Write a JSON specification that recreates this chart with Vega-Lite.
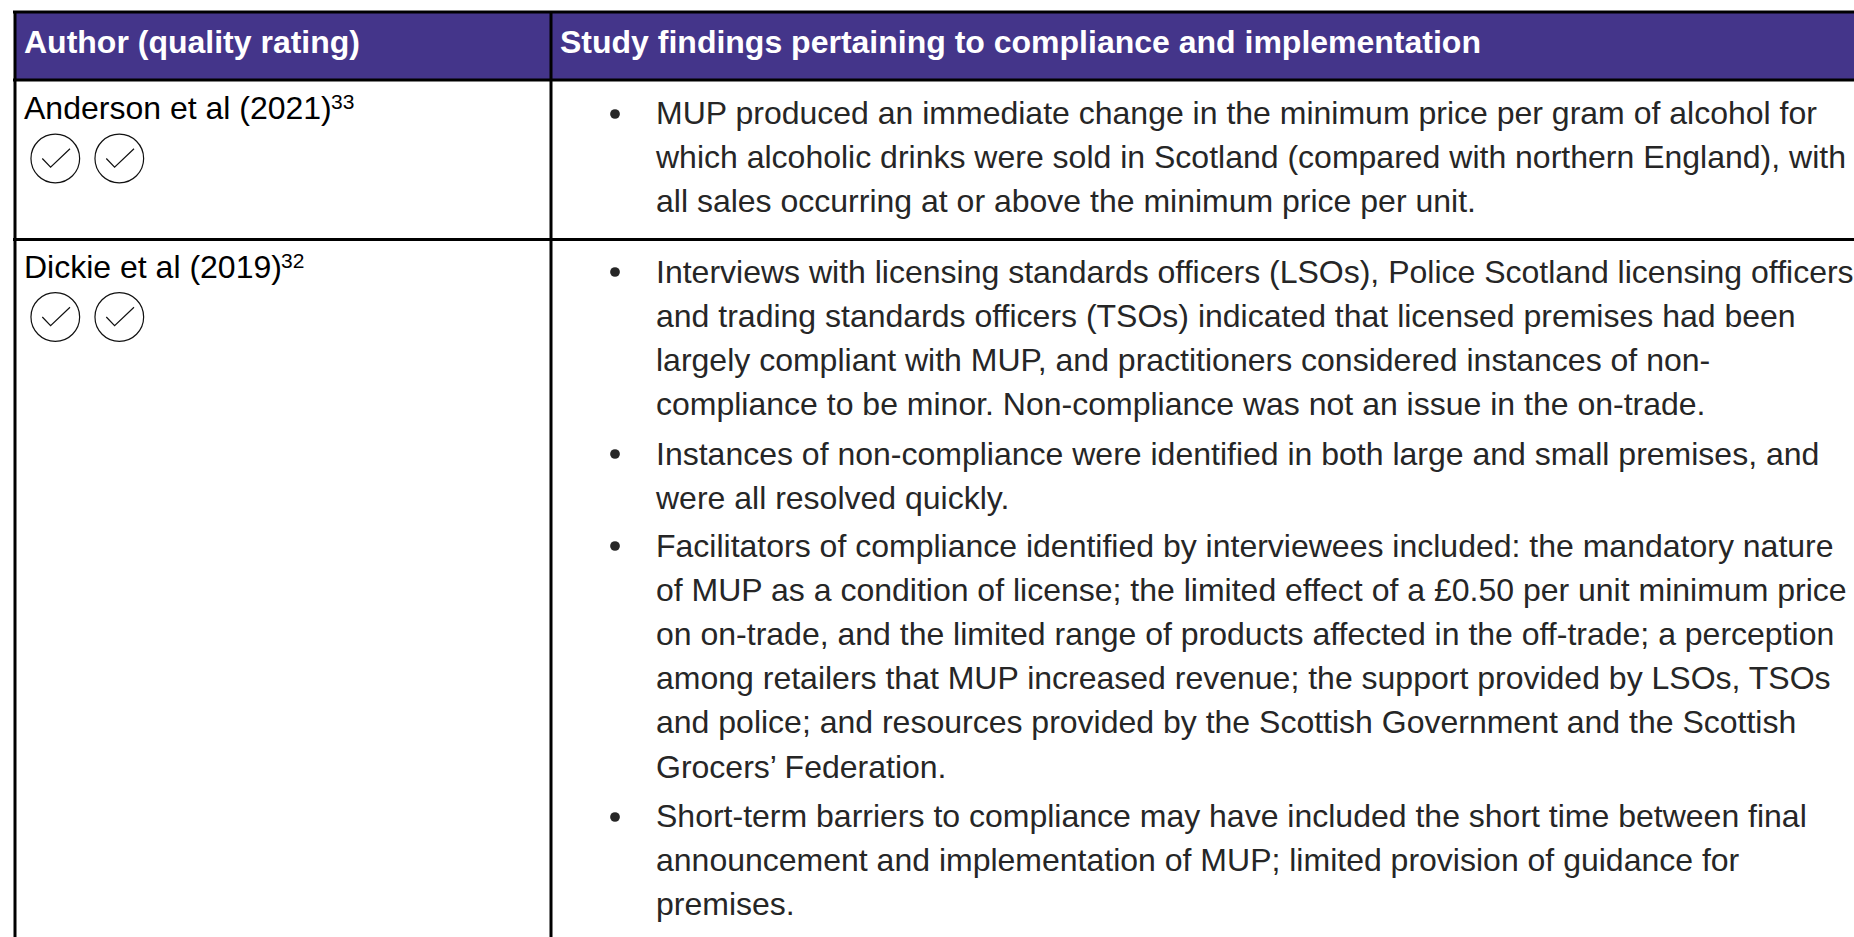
{
"$schema":"https://vega.github.io/schema/vega-lite/v6.json",
"width":1854,"height":937,"padding":0,"autosize":{"type":"none"},
"background":"white",
"config":{"view":{"stroke":null}},
"datasets":{
"header":[{"left":14,"right":1854,"top":12,"bottom":80}],
"hrules":[{"name":"top","x1":13,"x2":1854,"y":12},{"name":"header bottom","x1":13,"x2":1854,"y":80},{"name":"row 1 bottom","x1":13,"x2":1854,"y":239.5}],
"vrules":[{"name":"left","x":15,"y1":11,"y2":937},{"name":"divider","x":551,"y1":11,"y2":937}],
"headtext":[{"x":24,"y":53,"t":"Author (quality rating)"},{"x":560,"y":53,"t":"Study findings pertaining to compliance and implementation"}],
"authors":[{"x":24,"y":119,"t":"Anderson et al (2021)"},{"x":24,"y":278,"t":"Dickie et al (2019)"}],
"sups":[{"x":331,"y":109,"t":"33"},{"x":281,"y":268,"t":"32"}],
"body":[
{"y":124,"t":"MUP produced an immediate change in the minimum price per gram of alcohol for"},
{"y":168,"t":"which alcoholic drinks were sold in Scotland (compared with northern England), with"},
{"y":212,"t":"all sales occurring at or above the minimum price per unit."},
{"y":282.5,"t":"Interviews with licensing standards officers (LSOs), Police Scotland licensing officers"},
{"y":326.5,"t":"and trading standards officers (TSOs) indicated that licensed premises had been"},
{"y":371,"t":"largely compliant with MUP, and practitioners considered instances of non-"},
{"y":415,"t":"compliance to be minor. Non-compliance was not an issue in the on-trade."},
{"y":464.5,"t":"Instances of non-compliance were identified in both large and small premises, and"},
{"y":508.5,"t":"were all resolved quickly."},
{"y":557,"t":"Facilitators of compliance identified by interviewees included: the mandatory nature"},
{"y":601,"t":"of MUP as a condition of license; the limited effect of a £0.50 per unit minimum price"},
{"y":645,"t":"on on-trade, and the limited range of products affected in the off-trade; a perception"},
{"y":689,"t":"among retailers that MUP increased revenue; the support provided by LSOs, TSOs"},
{"y":733,"t":"and police; and resources provided by the Scottish Government and the Scottish"},
{"y":778,"t":"Grocers’ Federation."},
{"y":827,"t":"Short-term barriers to compliance may have included the short time between final"},
{"y":871,"t":"announcement and implementation of MUP; limited provision of guidance for"},
{"y":915,"t":"premises."}
],
"bullets":[{"x":615,"y":114},{"x":615,"y":272},{"x":615,"y":454},{"x":615,"y":546},{"x":615,"y":817}],
"circles":[{"x":55.3,"y":158.5},{"x":119.3,"y":158.5},{"x":55.3,"y":317},{"x":119.3,"y":317}],
"checks":[
{"c":"a1","o":1,"x":42.3,"y":158.5},{"c":"a1","o":2,"x":50.6,"y":167.2},{"c":"a1","o":3,"x":70,"y":148.8},
{"c":"a2","o":1,"x":106.3,"y":158.5},{"c":"a2","o":2,"x":114.6,"y":167.2},{"c":"a2","o":3,"x":134,"y":148.8},
{"c":"d1","o":1,"x":42.3,"y":317},{"c":"d1","o":2,"x":50.6,"y":325.7},{"c":"d1","o":3,"x":70,"y":307.3},
{"c":"d2","o":1,"x":106.3,"y":317},{"c":"d2","o":2,"x":114.6,"y":325.7},{"c":"d2","o":3,"x":134,"y":307.3}
]
},
"layer":[
{"data":{"name":"header"},"mark":{"type":"rect","color":"#44358a"},
 "encoding":{"x":{"field":"left","type":"quantitative","scale":{"domain":[0,1854],"nice":false,"zero":false},"axis":null},"x2":{"field":"right"},
 "y":{"field":"top","type":"quantitative","scale":{"domain":[937,0],"nice":false,"zero":false},"axis":null},"y2":{"field":"bottom"}}},
{"data":{"name":"hrules"},"mark":{"type":"rule","color":"#000000","strokeWidth":3},
 "encoding":{"x":{"field":"x1","type":"quantitative"},"x2":{"field":"x2"},"y":{"field":"y","type":"quantitative"}}},
{"data":{"name":"vrules"},"mark":{"type":"rule","color":"#000000","strokeWidth":3},
 "encoding":{"x":{"field":"x","type":"quantitative"},"y":{"field":"y1","type":"quantitative"},"y2":{"field":"y2"}}},
{"data":{"name":"headtext"},"mark":{"type":"text","align":"left","baseline":"alphabetic","font":"Liberation Sans","fontWeight":"bold","fontSize":32,"color":"#ffffff"},
 "encoding":{"x":{"field":"x","type":"quantitative"},"y":{"field":"y","type":"quantitative"},"text":{"field":"t"}}},
{"data":{"name":"authors"},"mark":{"type":"text","align":"left","baseline":"alphabetic","font":"Liberation Sans","fontSize":32,"color":"#000000"},
 "encoding":{"x":{"field":"x","type":"quantitative"},"y":{"field":"y","type":"quantitative"},"text":{"field":"t"}}},
{"data":{"name":"sups"},"mark":{"type":"text","align":"left","baseline":"alphabetic","font":"Liberation Sans","fontSize":21,"color":"#000000"},
 "encoding":{"x":{"field":"x","type":"quantitative"},"y":{"field":"y","type":"quantitative"},"text":{"field":"t"}}},
{"data":{"name":"body"},"mark":{"type":"text","align":"left","baseline":"alphabetic","font":"Liberation Sans","fontSize":32,"color":"#262626","x":656},
 "encoding":{"y":{"field":"y","type":"quantitative"},"text":{"field":"t"}}},
{"data":{"name":"bullets"},"mark":{"type":"point","shape":"circle","filled":true,"color":"#262626","size":95,"opacity":1},
 "encoding":{"x":{"field":"x","type":"quantitative"},"y":{"field":"y","type":"quantitative"}}},
{"data":{"name":"circles"},"mark":{"type":"point","shape":"circle","filled":false,"color":"#111111","size":2370,"strokeWidth":1.2,"opacity":1},
 "encoding":{"x":{"field":"x","type":"quantitative"},"y":{"field":"y","type":"quantitative"}}},
{"data":{"name":"checks"},"mark":{"type":"line","color":"#111111","strokeWidth":1.2},
 "encoding":{"x":{"field":"x","type":"quantitative"},"y":{"field":"y","type":"quantitative"},"order":{"field":"o","type":"ordinal"},"detail":{"field":"c"}}}
],
"resolve":{"scale":{"x":"shared","y":"shared"}}
}
